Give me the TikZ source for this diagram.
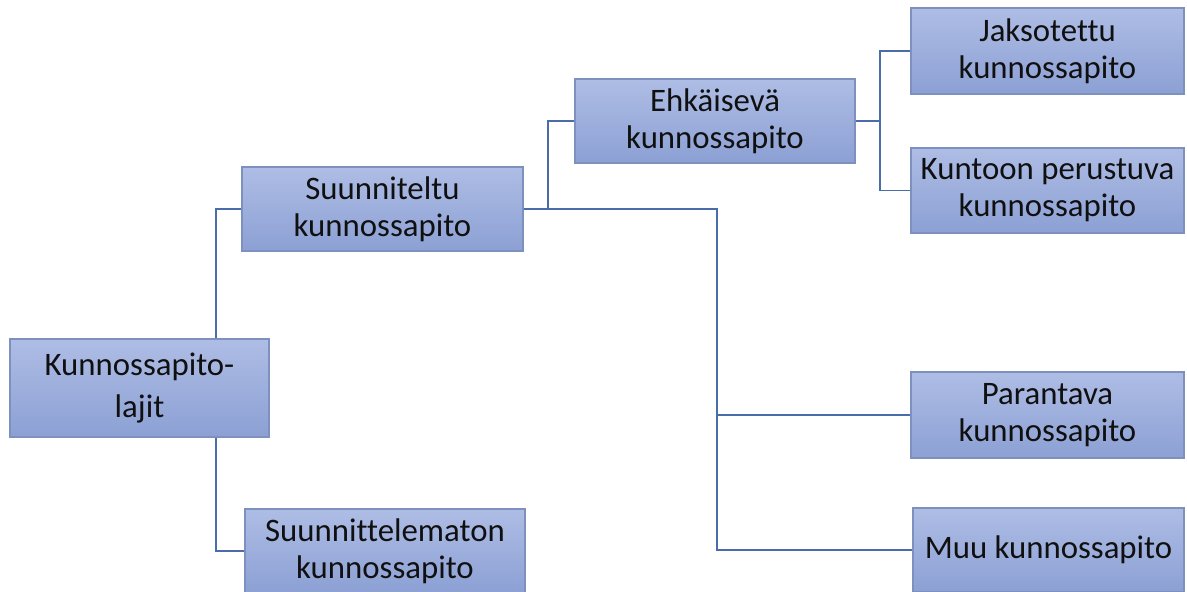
\documentclass[tikz,border=0pt]{standalone}
\usepackage{fontspec}
\setmainfont[Ligatures={NoCommon}]{Carlito}
\definecolor{boxtop}{HTML}{AEBDE5}
\definecolor{boxbot}{HTML}{8CA0D4}
\definecolor{boxedge}{HTML}{7D90BE}
\definecolor{linkcol}{HTML}{4A6DAA}
\definecolor{txt}{HTML}{101010}
\begin{document}
\begin{tikzpicture}[x=0.5pt,y=-0.5pt,
  catbox/.style={rectangle, draw=boxedge, line width=0.6pt,
    top color=boxtop, bottom color=boxbot, inner sep=0pt, align=center,
    text=txt, font=\fontsize{16.4}{18.5}\selectfont},
  link/.style={draw=linkcol, line width=0.8pt}]
\useasboundingbox (0,0) rectangle (1187,591);
\clip (0,0) rectangle (1187,591);
\fill[white] (0,0) rectangle (1187,591);

% boxes
\node[catbox, minimum width=129.5pt, minimum height=49pt,
  font=\fontsize{16.4}{21}\selectfont] (root) at (139.5,388) {Kunnossapito-\\lajit};
\node[catbox, minimum width=140.5pt, minimum height=42pt] (plan) at (382.5,209) {Suunniteltu\\kunnossapito};
\node[catbox, minimum width=140pt, minimum height=42pt] (unpl) at (385,551) {Suunnittelematon\\kunnossapito};
\node[catbox, minimum width=140pt, minimum height=42pt] (prev) at (715,121) {Ehkäisevä\\kunnossapito};
\node[catbox, minimum width=136.5pt, minimum height=43pt] (jak) at (1047.5,51) {Jaksotettu\\kunnossapito};
\node[catbox, minimum width=136.5pt, minimum height=42.5pt] (kun) at (1047.5,190.5) {Kuntoon perustuva\\kunnossapito};
\node[catbox, minimum width=136.5pt, minimum height=43pt] (par) at (1047.5,415) {Parantava\\kunnossapito};
\node[catbox, minimum width=135.5pt, minimum height=42pt] (muu) at (1048.5,550) {Muu kunnossapito};

% trunk positions of the connectors
\coordinate (t1) at (216,0);
\coordinate (t2) at (548,0);
\coordinate (t3) at (717,0);
\coordinate (t4) at (880,0);

% connectors
\draw[link] (root.north -| t1) |- (plan.west);
\draw[link] (root.south -| t1) |- (unpl.west);
\draw[link] (plan.east) -- (plan.east -| t2) |- (prev.west);
\draw[link] (plan.east) -- (plan.east -| t3) |- (muu.west);
\draw[link] (plan.east -| t3) |- (par.west);
\draw[link] (prev.east) -- (prev.east -| t4) |- (jak.west);
\draw[link] (prev.east -| t4) |- (kun.west);
\end{tikzpicture}
\end{document}
